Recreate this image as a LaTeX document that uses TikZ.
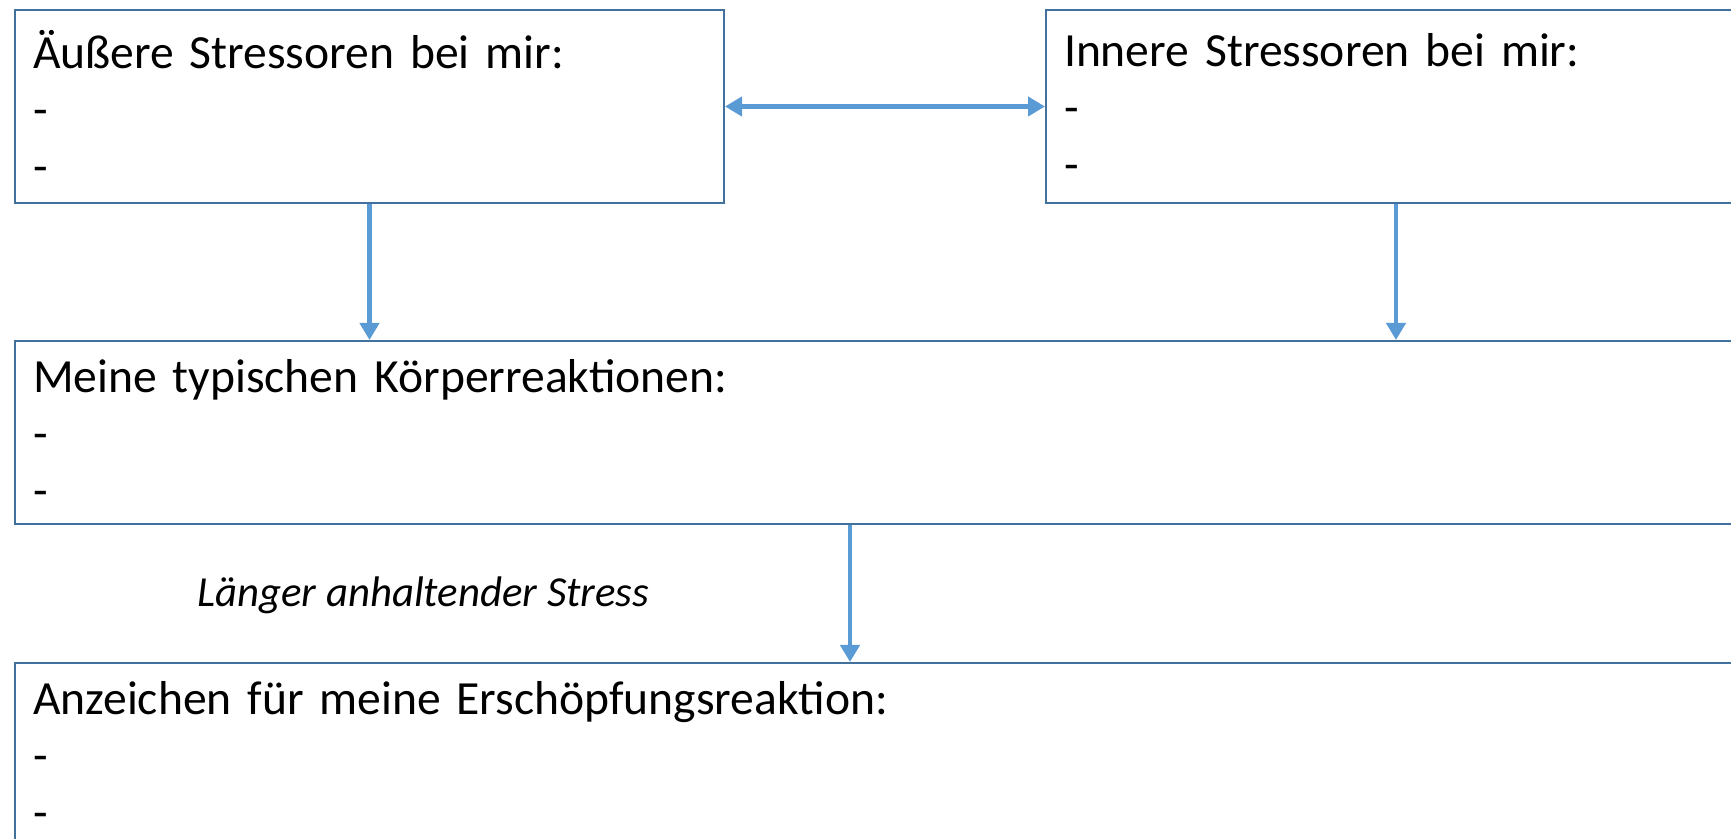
\documentclass[tikz,border=0pt]{standalone}
\usepackage{fontspec}
\setmainfont{Carlito}
\usepackage{xcolor}
\usetikzlibrary{arrows.meta, positioning}
\definecolor{rahmenblau}{HTML}{41719C}
\definecolor{pfeilblau}{HTML}{5B9BD5}

\begin{document}
\begin{tikzpicture}[x=0.5pt, y=-0.5pt,
  kasten/.style={draw=rahmenblau, line width=1pt, anchor=north west, align=left,
    inner xsep=9pt, font=\fontsize{23.8}{28.5}\selectfont},
  pfeil/.style={draw=pfeilblau, line width=2.4pt, -{Triangle[width=9.5pt, length=8.5pt]}}]
\useasboundingbox (0,0) rectangle (1731,839);
\clip (0,0) rectangle (1731,839);
\node[kasten, minimum width=354.5pt, minimum height=96.5pt, text width=336.5pt] (aussen) at (14,9)
  {Äußere Stressoren bei mir:\\-\\-};
\node[kasten, minimum width=350pt, minimum height=96.5pt, text width=332pt] (innen) at (1045,9)
  {Innere Stressoren bei mir:\\-\\-};
\node[kasten, minimum width=870pt, minimum height=91.5pt, text width=852pt] (koerper) at (14,340)
  {Meine typischen Körperreaktionen:\\-\\-};
\node[kasten, minimum width=870pt, minimum height=91.5pt, text width=852pt] (erschoepf) at (14,662)
  {Anzeichen für meine Erschöpfungsreaktion:\\-\\-};
\node[anchor=base west, inner sep=0pt, font=\fontsize{21.4}{25}\selectfont\itshape] (dauer) at (197,607)
  {Länger anhaltender Stress};
\coordinate (kmitte) at (850,0);
\draw[pfeil, {Triangle[width=9.5pt, length=8.5pt]}-{Triangle[width=9.5pt, length=8.5pt]}] (aussen) -- (innen);
\draw[pfeil] (aussen.south) -- (aussen.south |- koerper.north);
\draw[pfeil] (innen.south) -- (innen.south |- koerper.north);
\draw[pfeil] (koerper.south -| kmitte) -- (erschoepf.north -| kmitte);
\end{tikzpicture}
\end{document}
